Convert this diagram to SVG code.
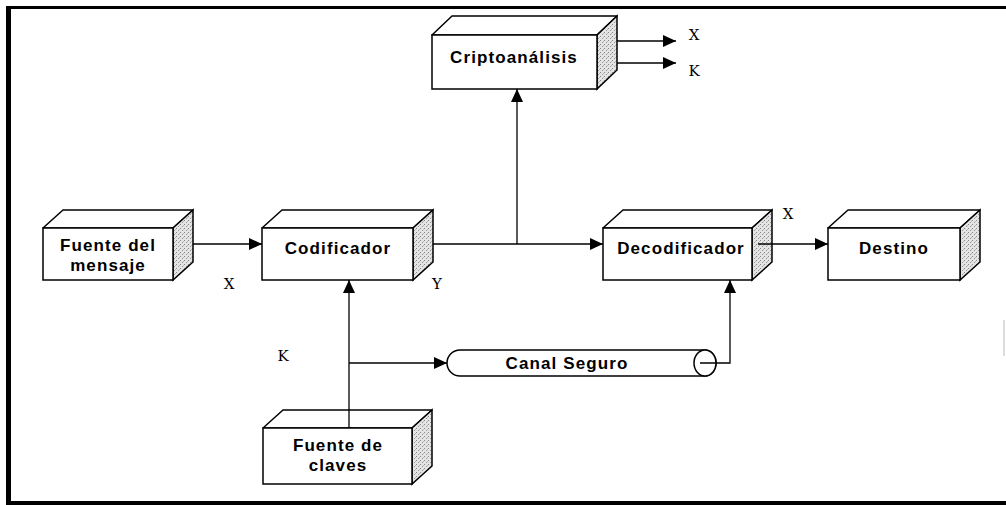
<svg xmlns="http://www.w3.org/2000/svg" width="1006" height="505" viewBox="0 0 1006 505">
<style>
.front{fill:#fff;stroke:#000;stroke-width:1.5}
.top{fill:#fff;stroke:#000;stroke-width:1.5;stroke-linejoin:round}
.side{fill:url(#stipple);stroke:#000;stroke-width:1.5}
.lbl{font-family:"Liberation Sans",Arial,sans-serif;font-weight:bold;font-size:17px;letter-spacing:1.1px;text-anchor:middle;fill:#000}
.var{font-family:"DejaVu Serif","Liberation Serif",serif;font-size:15px;text-anchor:middle;fill:#000}
.conn{fill:none;stroke:#000;stroke-width:1.3}
.arr{marker-end:url(#ah)}
</style>
<defs>
<pattern id="stipple" width="4" height="4" patternUnits="userSpaceOnUse">
<rect width="4" height="4" fill="#e4e4e4"/>
<rect x="0" y="0" width="1" height="1" fill="#888"/>
<rect x="2" y="2" width="1" height="1" fill="#999"/>
<rect x="3" y="1" width="1" height="1" fill="#bbb"/>
</pattern>
<marker id="ah" markerUnits="userSpaceOnUse" markerWidth="14" markerHeight="12" refX="13" refY="6" orient="auto">
<path d="M0,0 L13,6 L0,12 z" fill="#000"/>
</marker>
</defs>
<rect width="1006" height="505" fill="#fff"/>
<g id="frame">
<rect x="6" y="6" width="5" height="496" fill="#000"/>
<rect x="6" y="6" width="1000" height="3" fill="#000"/>
<rect x="6" y="501" width="1000" height="4" fill="#000"/>
<line x1="1004" y1="320" x2="1004" y2="356" stroke="#bbb" stroke-width="1"/>
</g>
<g id="criptoanalisis">
<polygon class="top" points="432,35 452,16 617,16 597,35"/>
<polygon class="side" points="597,35 617,16 617,70 597,89"/>
<rect class="front" x="432" y="35" width="165" height="54"/>
<text class="lbl" x="514" y="63">Criptoanálisis</text>
</g>
<g id="fuente-mensaje">
<polygon class="top" points="43,228 63,210 193,210 173,228"/>
<polygon class="side" points="173,228 193,210 193,262 173,280"/>
<rect class="front" x="43" y="228" width="130" height="52"/>
<text class="lbl" x="108" y="251">Fuente del</text>
<text class="lbl" x="108" y="271">mensaje</text>
</g>
<g id="codificador">
<polygon class="top" points="262,228 282,210 433,210 413,228"/>
<polygon class="side" points="413,228 433,210 433,262 413,280"/>
<rect class="front" x="262" y="228" width="151" height="52"/>
<text class="lbl" x="338" y="254">Codificador</text>
</g>
<g id="decodificador">
<polygon class="top" points="603,228 623,210 772,210 752,228"/>
<polygon class="side" points="752,228 772,210 772,262 752,280"/>
<rect class="front" x="603" y="228" width="149" height="52"/>
<text class="lbl" x="681" y="254">Decodificador</text>
</g>
<g id="destino">
<polygon class="top" points="828,228 848,210 980,210 960,228"/>
<polygon class="side" points="960,228 980,210 980,262 960,280"/>
<rect class="front" x="828" y="228" width="132" height="52"/>
<text class="lbl" x="894" y="254">Destino</text>
</g>
<g id="canal-seguro">
<path class="front" d="M460,350 L705,350 A11,13 0 0 1 705,376 L460,376 A13,13 0 0 1 460,350 Z"/>
<ellipse class="front" cx="705" cy="363" rx="11" ry="13"/>
<text class="lbl" x="567" y="369">Canal Seguro</text>
</g>
<g id="fuente-claves">
<polygon class="top" points="263,428 283,410 432,410 412,428"/>
<polygon class="side" points="412,428 432,410 432,466 412,484"/>
<rect class="front" x="263" y="428" width="149" height="56"/>
<text class="lbl" x="338" y="451">Fuente de</text>
<text class="lbl" x="338" y="471">claves</text>
</g>
<g id="connectors">
<line class="conn arr" x1="617" y1="41" x2="676" y2="41"/>
<line class="conn arr" x1="617" y1="63" x2="676" y2="63"/>
<line class="conn arr" x1="517" y1="244" x2="517" y2="89"/>
<line class="conn arr" x1="193" y1="244" x2="262" y2="244"/>
<line class="conn arr" x1="433" y1="244" x2="603" y2="244"/>
<line class="conn arr" x1="758" y1="244" x2="828" y2="244"/>
<line class="conn arr" x1="349" y1="428" x2="349" y2="280"/>
<line class="conn arr" x1="349" y1="363" x2="447" y2="363"/>
<polyline class="conn arr" points="700,363 730,363 730,280"/>
</g>
<g id="labels">
<text class="var" x="694" y="40">X</text>
<text class="var" x="694" y="76">K</text>
<text class="var" x="229" y="289">X</text>
<text class="var" x="437" y="289">Y</text>
<text class="var" x="788" y="219">X</text>
<text class="var" x="283" y="361">K</text>
</g>
</svg>
